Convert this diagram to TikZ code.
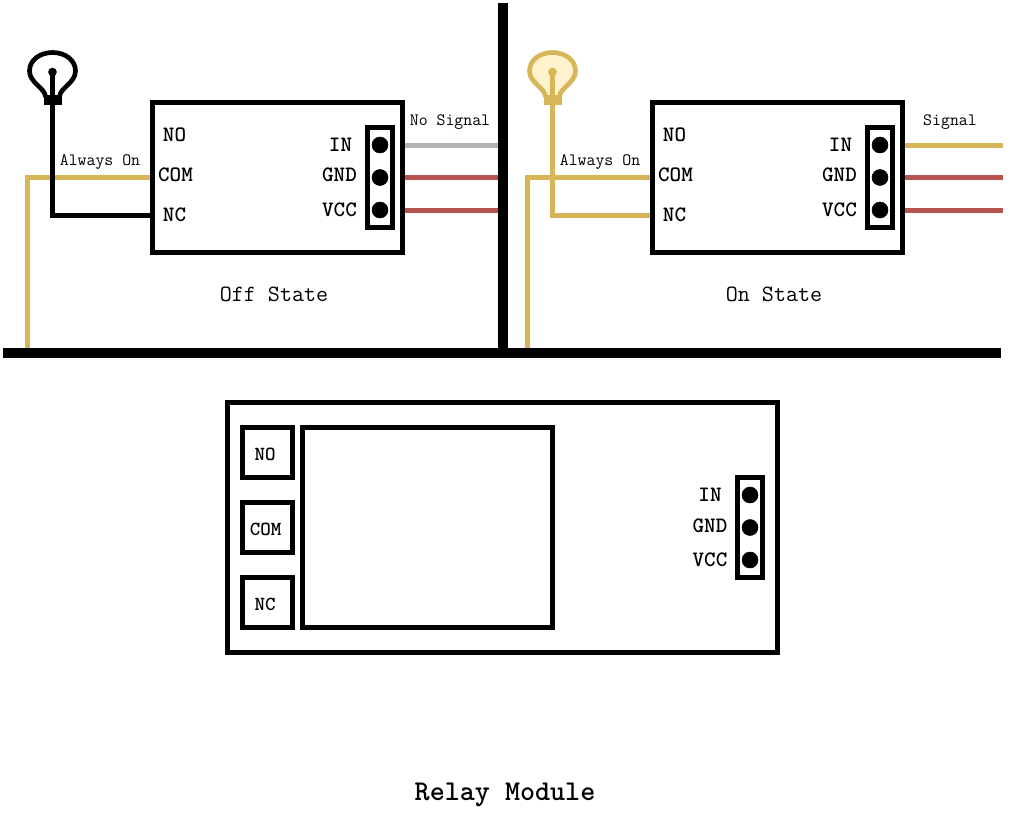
\documentclass[tikz,border=0pt]{standalone}
\usepackage{fontspec}
\usepackage{tikz}
\usetikzlibrary{calc}
\definecolor{wiregold}{HTML}{D6B656}
\definecolor{wirered}{HTML}{B85450}
\definecolor{wiregray}{HTML}{B3B3B3}
\definecolor{glowfill}{HTML}{FFF2CC}
\def\bulbpath{(45.5,97) .. controls (45.5,88) and (29.5,83) .. (29.5,71)
  .. controls (29.5,60) and (40,52.5) .. (52.5,52.5)
  .. controls (65,52.5) and (75.5,60) .. (75.5,71)
  .. controls (75.5,83) and (59.5,88) .. (59.5,97)}

\begin{document}
\begin{tikzpicture}[x=.75pt, y=-.75pt]
% -------------------------------------------------
\tikzset{
  relaybox/.style={draw, line width=3.75pt, rectangle, minimum width=187.5pt, minimum height=112.5pt},
  hdrbox/.style={draw, line width=3.75pt, rectangle, minimum width=18.75pt, minimum height=75pt},
  termbox/.style={draw, line width=3.75pt, rectangle, inner sep=0pt, minimum size=37.5pt},
  termlab/.style={inner sep=0pt, font=\ttfamily\bfseries\fontsize{15}{15}\selectfont},
  pin/.style={draw, fill=black, circle, inner sep=0pt, minimum size=12pt},
  pinlab/.style={inner sep=0pt, font=\ttfamily\bfseries\fontsize{16.5}{16.5}\selectfont},
  note/.style={inner sep=0pt, font=\ttfamily\fontsize{13}{13}\selectfont},
  caption/.style={inner sep=0pt, font=\ttfamily\fontsize{17.5}{17.5}\selectfont},
  wire/.style={draw, line width=3.75pt},
  bar/.style={draw, line width=7.5pt},
  bulbbase/.style={draw=none, rectangle, inner sep=0pt, minimum width=13.5pt, minimum height=7.5pt},
  filament/.style={circle, inner sep=0pt, minimum size=6.5pt}
}
\useasboundingbox (0,0) rectangle (1010,815);
% -------------------------------------------------
% Off state

\node [relaybox] (offbox) at (277.5,177.5) {};
\node [hdrbox] (offhdr) at (380,177.5) {};
\node [pin] (offin) at (380,145) {};
\node [pin] (offgnd) at (380,177.5) {};
\node [pin] (offvcc) at (380,210) {};

\node [pinlab] (offnolab) at (174.5,134.5) {NO};
\node [pinlab] (offcomlab) at (175.5,174.5) {COM};
\node [pinlab] (offnclab) at (174.5,214.5) {NC};
\node [pinlab] (offinlab) at (340.5,144.5) {IN};
\node [pinlab] (offgndlab) at (339.5,174.5) {GND};
\node [pinlab] (offvcclab) at (339.5,209.5) {VCC};
\node [note] (offalways) at (100,162) {Always On};
\node [note] (offsignal) at (450,122) {No Signal};
\node [caption] (offtitle) at (274,294) {Off State};

\coordinate (offbus) at (27.5,352.5);
\coordinate (offnc) at (150,215);
\node [bulbbase, fill=black] (offbase) at (52.5,99.5) {};
\node [filament, fill=black] (offfil) at (52.5,72) {};

\draw [line width=3.5pt] \bulbpath;
\path [wire, wiregold] (offbus) |- (offbox.west);
\path [wire, black] (offfil.center) |- (offnc);
\path [wire, wiregray] (offbox.east |- offin) -- (497.5,145);
\path [wire, wirered] (offbox.east |- offgnd) -- (500,177.5);
\path [wire, wirered] (offbox.east |- offvcc) -- (500,210);

% -------------------------------------------------
% On state

\node [relaybox] (onbox) at (777.5,177.5) {};
\node [hdrbox] (onhdr) at (880,177.5) {};
\node [pin] (onin) at (880,145) {};
\node [pin] (ongnd) at (880,177.5) {};
\node [pin] (onvcc) at (880,210) {};

\node [pinlab] (onnolab) at (674.5,134.5) {NO};
\node [pinlab] (oncomlab) at (675.5,174.5) {COM};
\node [pinlab] (onnclab) at (674.5,214.5) {NC};
\node [pinlab] (oninlab) at (840.5,144.5) {IN};
\node [pinlab] (ongndlab) at (839.5,174.5) {GND};
\node [pinlab] (onvcclab) at (839.5,209.5) {VCC};
\node [note] (onalways) at (600,162) {Always On};
\node [note] (onsignal) at (950,122) {Signal};
\node [caption] (ontitle) at (774,294) {On State};

\coordinate (onbus) at (527.5,352.5);
\coordinate (onnc) at (650,215);

\draw [line width=3.5pt, draw=wiregold, fill=glowfill, shift={(500,0)}] \bulbpath;
\node [bulbbase, fill=wiregold] (onbase) at (552.5,99.5) {};
\node [filament, fill=wiregold] (onfil) at (552.5,72) {};
\path [wire, wiregold] (onbus) |- (onbox.west);
\path [wire, wiregold] (onfil.center) |- (onnc);
\path [wire, wiregold] (onbox.east |- onin) -- (1002.5,145);
\path [wire, wirered] (onbox.east |- ongnd) -- (1002.5,177.5);
\path [wire, wirered] (onbox.east |- onvcc) -- (1002.5,210);

% -------------------------------------------------
% Dividers

\coordinate (midtop) at (502.5,2.5);
\coordinate (midbot) at (502.5,357.5);
\coordinate (leftend) at (2.5,352.5);
\coordinate (rightend) at (1001,352.5);
\path [bar] (midtop) -- (midbot);
\path [bar] (leftend) -- (rightend);

% -------------------------------------------------
% Relay module

\node [draw, line width=3.75pt, rectangle, minimum width=412.5pt, minimum height=187.5pt] (module) at (502.5,527.5) {};
\node [draw, line width=3.75pt, rectangle, minimum width=187.5pt, minimum height=150pt] (coil) at (427.5,527.5) {};
\node [termbox] (modno) at (267.5,452.5) {};
\node [termbox] (modcom) at (267.5,527.5) {};
\node [termbox] (modnc) at (267.5,602.5) {};
\node [termlab] (modnolab) at (265,454.5) {NO};
\node [termlab] (modcomlab) at (265.5,529.5) {COM};
\node [termlab] (modnclab) at (265,604.5) {NC};
\node [hdrbox] (modhdr) at (750,527.5) {};
\node [pin] (modin) at (750,495) {};
\node [pin] (modgnd) at (750,527.5) {};
\node [pin] (modvcc) at (750,560) {};
\node [pinlab] (modinlab) at (710,494.5) {IN};
\node [pinlab] (modgndlab) at (710,525.5) {GND};
\node [pinlab] (modvcclab) at (710,559.5) {VCC};
\node [caption, font=\ttfamily\bfseries\fontsize{21.5}{21.5}\selectfont] (modtitle) at (505,794.5) {Relay Module};

\end{tikzpicture}
\end{document}
